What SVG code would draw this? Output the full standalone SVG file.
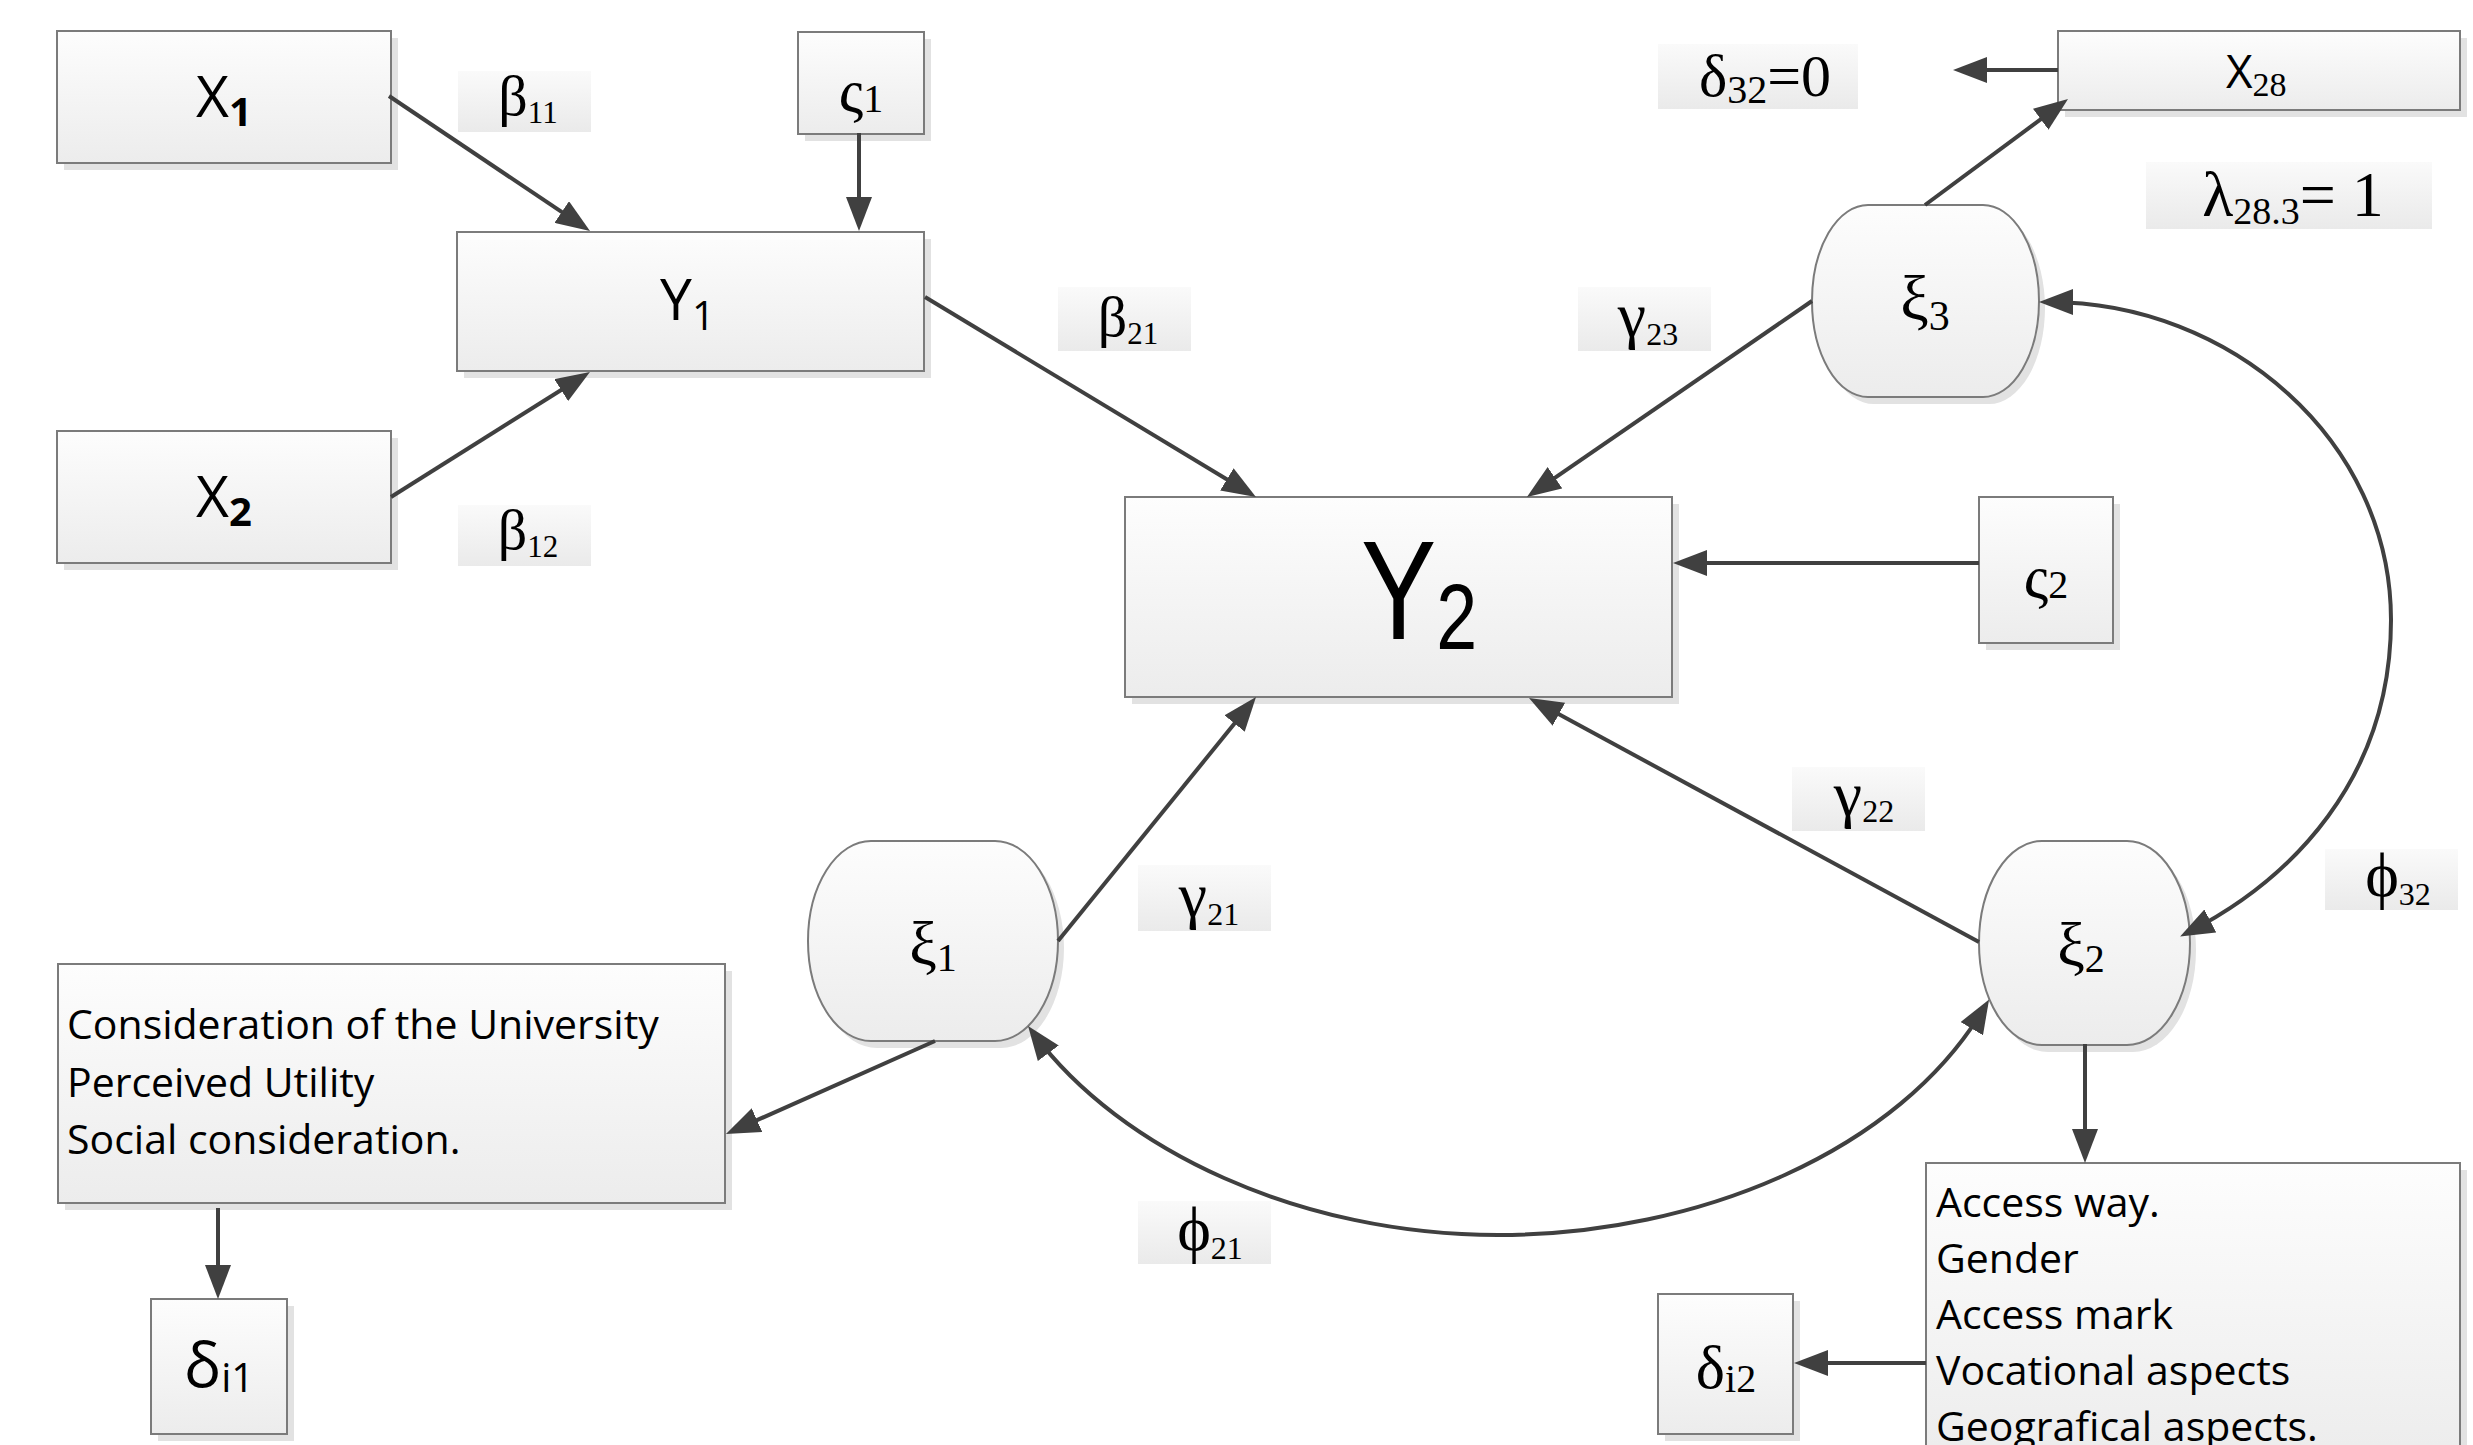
<svg xmlns="http://www.w3.org/2000/svg" width="2473" height="1445" viewBox="0 0 2473 1445">
<style>
.box{fill:url(#gBox);stroke:#7b7b7b;stroke-width:2}
.sh{fill:#e2e2e2}
.lab{fill:url(#gLab)}
.con{fill:none;stroke:#404040;stroke-width:4}
.serif{font-family:"Liberation Serif","Times New Roman",serif;fill:#000}
.sans{font-family:"Open Sans","Noto Sans",sans-serif;fill:#000}
.gl{font-size:64px}
.sub{font-size:32px}
.list{font-family:"Open Sans","Noto Sans",sans-serif;font-size:41px;fill:#000}
</style>
<defs>
<linearGradient id="gBox" x1="0" y1="0" x2="0" y2="1"><stop offset="0" stop-color="#fdfdfd"/><stop offset="1" stop-color="#ececec"/></linearGradient>
<linearGradient id="gLab" x1="0" y1="0" x2="0" y2="1"><stop offset="0" stop-color="#fafafa"/><stop offset="1" stop-color="#eaeaea"/></linearGradient>
<marker id="ah" viewBox="0 0 34 26" refX="24" refY="13" markerWidth="34" markerHeight="26" markerUnits="userSpaceOnUse" orient="auto-start-reverse"><path d="M0,0 L34,13 L0,26 Z" fill="#404040"/></marker>
</defs>
<rect width="2473" height="1445" fill="#fff"/>

<g id="labels">
<g id="lab-b11"><rect class="lab" x="458" y="71" width="133" height="61"/><text class="serif" font-size="58" x="528" y="115" text-anchor="middle">β<tspan font-size="31" dy="8">11</tspan></text></g>
<g id="lab-b12"><rect class="lab" x="458" y="505" width="133" height="61"/><text class="serif" font-size="58" x="528" y="549" text-anchor="middle">β<tspan font-size="31" dy="8">12</tspan></text></g>
<g id="lab-b21"><rect class="lab" x="1058" y="287" width="133" height="64"/><text class="serif" font-size="58" x="1128" y="336" text-anchor="middle">β<tspan font-size="31" dy="8">21</tspan></text></g>
<g id="lab-g23"><rect class="lab" x="1578" y="287" width="133" height="64"/><text class="serif gl" x="1648" y="336" text-anchor="middle">γ<tspan class="sub" dy="9">23</tspan></text></g>
<g id="lab-d32"><rect class="lab" x="1658" y="44" width="200" height="65"/><text class="serif" font-size="60" x="1765" y="96" text-anchor="middle">δ<tspan font-size="40" dy="7">32</tspan><tspan dy="-7">=0</tspan></text></g>
<g id="lab-l"><rect class="lab" x="2146" y="162" width="286" height="67"/><text class="serif" font-size="64" x="2293" y="216" text-anchor="middle">λ<tspan font-size="38" dy="8">28.3</tspan><tspan dy="-8">= 1</tspan></text></g>
<g id="lab-g22"><rect class="lab" x="1792" y="767" width="133" height="64"/><text class="serif gl" x="1864" y="815" text-anchor="middle">γ<tspan class="sub" dy="7">22</tspan></text></g>
<g id="lab-g21"><rect class="lab" x="1138" y="865" width="133" height="66"/><text class="serif gl" x="1209" y="916" text-anchor="middle">γ<tspan class="sub" dy="9">21</tspan></text></g>
<g id="lab-p32"><rect class="lab" x="2325" y="849" width="133" height="61"/><text class="serif gl" x="2398" y="896" text-anchor="middle">ϕ<tspan class="sub" dy="9">32</tspan></text></g>
<g id="lab-p21"><rect class="lab" x="1138" y="1201" width="133" height="63"/><text class="serif gl" x="1210" y="1250" text-anchor="middle">ϕ<tspan class="sub" dy="9">21</tspan></text></g>
</g>

<g id="nodes">
<g id="X1"><rect class="sh" x="64" y="38" width="334" height="132"/><rect class="box" x="57" y="31" width="334" height="132"/><text class="sans" font-size="57" x="196" y="117">X<tspan font-size="40" font-weight="bold" dy="9">1</tspan></text></g>
<g id="X2"><rect class="sh" x="64" y="438" width="334" height="132"/><rect class="box" x="57" y="431" width="334" height="132"/><text class="sans" font-size="57" x="196" y="517">X<tspan font-size="40" font-weight="bold" dy="9">2</tspan></text></g>
<g id="S1"><rect class="sh" x="805" y="39" width="126" height="102"/><rect class="box" x="798" y="32" width="126" height="102"/><text class="serif" font-size="62" x="861" y="112" text-anchor="middle">ς<tspan font-size="40">1</tspan></text></g>
<g id="Y1"><rect class="sh" x="464" y="239" width="467" height="139"/><rect class="box" x="457" y="232" width="467" height="139"/><text class="sans" font-size="57" x="660" y="320">Y<tspan font-size="40" dy="10">1</tspan></text></g>
<g id="Y2"><rect class="sh" x="1132" y="504" width="547" height="200"/><rect class="box" x="1125" y="497" width="547" height="200"/><text font-family="Liberation Sans, Arial, sans-serif" font-size="141" transform="translate(1361,639) scale(0.8,1)">Y<tspan font-size="92" dy="10">2</tspan></text></g>
<g id="S2"><rect class="sh" x="1986" y="504" width="134" height="146"/><rect class="box" x="1979" y="497" width="134" height="146"/><text class="serif" font-size="62" x="2046" y="598" text-anchor="middle">ς<tspan font-size="40">2</tspan></text></g>
<g id="X28"><rect class="sh" x="2065" y="38" width="402" height="79"/><rect class="box" x="2058" y="31" width="402" height="79"/><text class="sans" font-size="46" x="2226" y="88">X<tspan class="serif" font-size="34" dy="8">28</tspan></text></g>
<g id="XI3"><path class="sh" transform="translate(6,7)" d="M1868,205 H1983 A56,96 0 0 1 1983,397 H1868 A56,96 0 0 1 1868,205 Z"/><path class="box" d="M1868,205 H1983 A56,96 0 0 1 1983,397 H1868 A56,96 0 0 1 1868,205 Z"/><text class="serif" font-size="64" x="1925" y="320" text-anchor="middle">ξ<tspan font-size="42" dy="10">3</tspan></text></g>
<g id="XI1"><path class="sh" transform="translate(6,7)" d="M871,841 H995 A63,100 0 0 1 995,1041 H871 A63,100 0 0 1 871,841 Z"/><path class="box" d="M871,841 H995 A63,100 0 0 1 995,1041 H871 A63,100 0 0 1 871,841 Z"/><text class="serif" font-size="62" x="933" y="964" text-anchor="middle">ξ<tspan font-size="40" dy="7">1</tspan></text></g>
<g id="XI2"><path class="sh" transform="translate(6,7)" d="M2042,841 H2127 A63,102 0 0 1 2127,1045 H2042 A63,102 0 0 1 2042,841 Z"/><path class="box" d="M2042,841 H2127 A63,102 0 0 1 2127,1045 H2042 A63,102 0 0 1 2042,841 Z"/><text class="serif" font-size="62" x="2081" y="965" text-anchor="middle">ξ<tspan font-size="40" dy="7">2</tspan></text></g>
<g id="CONS"><rect class="sh" x="65" y="971" width="667" height="239"/><rect class="box" x="58" y="964" width="667" height="239"/>
<text class="list" x="67" y="1039">Consideration of the University</text>
<text class="list" x="67" y="1097">Perceived Utility</text>
<text class="list" x="67" y="1154">Social consideration.</text></g>
<g id="DI1"><rect class="sh" x="158" y="1306" width="136" height="135"/><rect class="box" x="151" y="1299" width="136" height="135"/><text class="sans" font-size="62" x="219" y="1387" text-anchor="middle">δ<tspan font-size="40" dy="5">i1</tspan></text></g>
<g id="DI2"><rect class="sh" x="1665" y="1301" width="135" height="140"/><rect class="box" x="1658" y="1294" width="135" height="140"/><text class="serif" font-size="62" x="1726" y="1388" text-anchor="middle">δ<tspan font-size="40" dy="4">i2</tspan></text></g>
<g id="ACC"><rect class="sh" x="1933" y="1170" width="534" height="300"/><rect class="box" x="1926" y="1163" width="534" height="300"/>
<text class="list" x="1936" y="1217">Access way.</text>
<text class="list" x="1936" y="1273">Gender</text>
<text class="list" x="1936" y="1329">Access mark</text>
<text class="list" x="1936" y="1385">Vocational aspects</text>
<text class="list" x="1936" y="1441">Geografical aspects.</text></g>
</g>

<g id="connectors">
<path class="con" marker-end="url(#ah)" d="M389,96 L581.7,225.4"/>
<path class="con" marker-end="url(#ah)" d="M391,497 L581.5,377.3"/>
<path class="con" marker-end="url(#ah)" d="M859,133 L859,221"/>
<path class="con" marker-end="url(#ah)" d="M925,297 L1247.4,491.8"/>
<path class="con" marker-end="url(#ah)" d="M1812,301 L1535.2,491.3"/>
<path class="con" marker-end="url(#ah)" d="M1925,205 L2060,105"/>
<path class="con" marker-end="url(#ah)" d="M2058,70 L1963,70"/>
<path class="con" marker-end="url(#ah)" d="M1979,563 L1683,563"/>
<path class="con" marker-end="url(#ah)" d="M1058,941 L1249.7,704.8"/>
<path class="con" marker-end="url(#ah)" d="M1979,942 L1537.8,702.8"/>
<path class="con" marker-end="url(#ah)" d="M935,1041 L735.1,1129.9"/>
<path class="con" marker-end="url(#ah)" d="M218,1208 L218,1289"/>
<path class="con" marker-end="url(#ah)" d="M2085,1044 L2085,1153"/>
<path class="con" marker-end="url(#ah)" d="M1926,1363 L1804,1363"/>
<path class="con" marker-start="url(#ah)" marker-end="url(#ah)" d="M1034,1034 C1120,1150 1300,1235 1498,1235 C1700,1235 1900,1150 1984,1008"/>
<path class="con" marker-start="url(#ah)" marker-end="url(#ah)" d="M2049,302 C2230,302 2391,440 2391,620 C2391,780 2290,880 2189,932"/>
</g>
</svg>
